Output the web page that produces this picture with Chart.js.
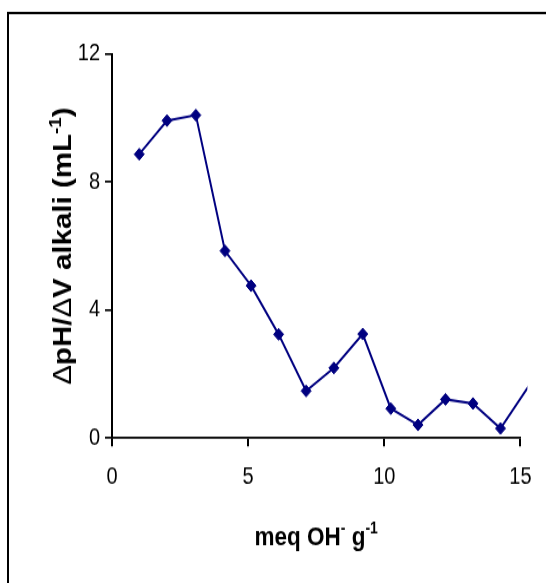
<!DOCTYPE html>
<html>
<head>
<meta charset="utf-8">
<script src="https://cdn.jsdelivr.net/npm/chart.js@4/dist/chart.umd.min.js"></script>
<style>
  html, body { margin: 0; padding: 0; background: #fff; overflow: hidden; }
  #stage { position: absolute; left: 0; top: 0; width: 546px; height: 494px; transform: scaleY(1.18); transform-origin: 0 0; }
  #c { display: block; width: 546px; height: 494px; }
</style>
</head>
<body>
<div id="stage"><canvas id="c" width="546" height="494"></canvas></div>
<script>
// Titration derivative curve: dpH/dV versus base added
const meqOH = [1.0, 2.02, 3.08, 4.15, 5.11, 6.12, 7.13, 8.15, 9.21, 10.24, 11.24, 12.25, 13.26, 14.27, 15.6];
const dpHdV = [8.87, 9.92, 10.09, 5.85, 4.76, 3.24, 1.47, 2.19, 3.25, 0.92, 0.41, 1.21, 1.08, 0.30, 2.0];
const xTicks = [0, 5, 10, 15];
const yTicks = [0, 4, 8, 12];
// title text pieces: [text, isSuperscript, isBold]
const yTitleParts = [['\u0394', 0, 0], ['pH/', 0, 1], ['\u0394', 0, 0], ['V alkali (mL', 0, 1], ['-1', 1, 1], [')', 0, 1]];
const xTitleParts = [['meq OH', 0, 1], ['-', 1, 1], [' g', 0, 1], ['-1', 1, 1]];

const NAVY = '#000080';
const FONT = "'Liberation Sans', Arial, sans-serif";

function drawRich(ctx, parts, size) {
  const supSize = Math.round(size * 0.62);
  const fontOf = (sup, bold) => (bold ? 'bold ' : '') + (sup ? supSize : size) + 'px ' + FONT;
  let total = 0;
  parts.forEach(([t, sup, bold]) => { ctx.font = fontOf(sup, bold); total += ctx.measureText(t).width; });
  let x = -total / 2;
  ctx.textBaseline = 'alphabetic';
  ctx.textAlign = 'left';
  parts.forEach(([t, sup, bold]) => {
    ctx.font = fontOf(sup, bold);
    ctx.fillText(t, x, sup ? -size * 0.42 : 0);
    x += ctx.measureText(t).width;
  });
}

const decorations = {
  id: 'decorations',
  afterDraw(chart) {
    const { ctx, chartArea } = chart;
    ctx.save();
    ctx.fillStyle = '#000';
    // vertical title
    ctx.save();
    ctx.translate(71, (chartArea.top + chartArea.bottom) / 2);
    ctx.rotate(-Math.PI / 2);
    drawRich(ctx, yTitleParts, 25);
    ctx.restore();
    // horizontal title
    ctx.save();
    ctx.translate((chartArea.left + chartArea.right) / 2, 461.5);
    drawRich(ctx, xTitleParts, 22.5);
    ctx.restore();
    // outer frame
    ctx.strokeStyle = '#000';
    ctx.lineWidth = 2;
    ctx.beginPath();
    ctx.moveTo(8, 600);
    ctx.lineTo(8, 11);
    ctx.lineTo(600, 11);
    ctx.stroke();
    ctx.restore();
  }
};

new Chart(document.getElementById('c'), {
  type: 'line',
  data: {
    datasets: [{
      data: meqOH.map((x, i) => ({ x, y: dpHdV[i] })),
      borderColor: NAVY,
      backgroundColor: NAVY,
      borderWidth: 2,
      tension: 0,
      pointStyle: 'rectRot',
      pointRadius: 5,
      pointHoverRadius: 5,
      pointBackgroundColor: NAVY,
      pointBorderColor: NAVY,
      pointBorderWidth: 1,
      clip: { left: 6, top: 6, right: 7, bottom: 6 }
    }]
  },
  options: {
    responsive: false,
    animation: false,
    layout: { padding: { left: 0, top: 45.8, right: 23, bottom: 0 } },
    plugins: { legend: { display: false }, tooltip: { enabled: false } },
    scales: {
      x: {
        type: 'linear',
        min: xTicks[0],
        max: xTicks[xTicks.length - 1],
        afterBuildTicks: s => { s.ticks = xTicks.map(v => ({ value: v })); },
        afterFit: s => { s.height = 494 - 371.2; },
        grid: { drawOnChartArea: false, color: '#000', lineWidth: 2, tickLength: 7 },
        border: { color: '#000', width: 1.7 },
        ticks: { color: '#000', padding: 14.5, font: { family: FONT, size: 20 }, maxRotation: 0 }
      },
      y: {
        type: 'linear',
        min: yTicks[0],
        max: yTicks[yTicks.length - 1],
        afterBuildTicks: s => { s.ticks = yTicks.map(v => ({ value: v })); },
        afterFit: s => { s.width = 112; },
        grid: { drawOnChartArea: false, color: '#000', lineWidth: 1.7, tickLength: 7 },
        border: { color: '#000', width: 2 },
        ticks: { color: '#000', padding: 5, font: { family: FONT, size: 20 } }
      }
    }
  },
  plugins: [decorations]
});
</script>
</body>
</html>
